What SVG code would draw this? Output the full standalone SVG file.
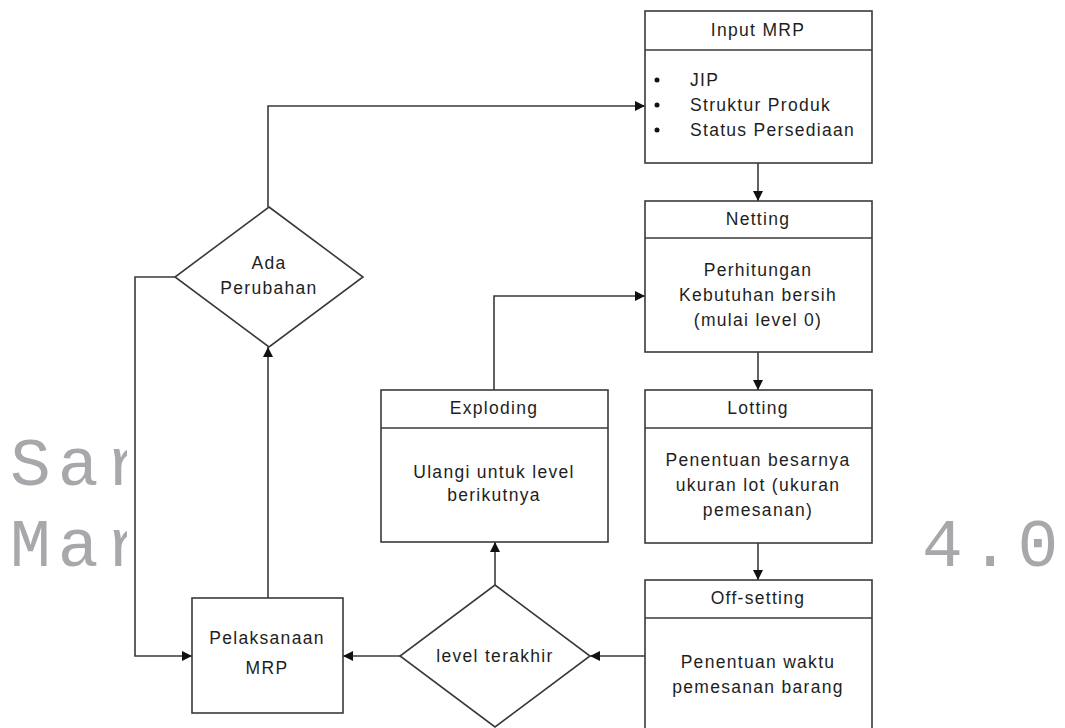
<svg xmlns="http://www.w3.org/2000/svg" width="1065" height="728" viewBox="0 0 1065 728">
  <style>
    .box { fill: #fff; stroke: #3a3a3a; stroke-width: 1.6; }
    .div { stroke: #3a3a3a; stroke-width: 1.6; }
    .lbl { font-family: "Liberation Sans", Arial, sans-serif; font-size: 17.5px; letter-spacing: 1.3px; fill: #1e1e1e; text-anchor: middle; }
    .item { font-family: "Liberation Sans", Arial, sans-serif; font-size: 17.5px; letter-spacing: 1.3px; fill: #1e1e1e; }
    .wm { font-family: "Liberation Mono", "Courier New", monospace; font-size: 68px; letter-spacing: 7px; fill: #a8a8ac; }
    .edge { fill: none; stroke: #3a3a3a; stroke-width: 1.6; }
  </style>
  <defs>
    <marker id="arrow" viewBox="0 0 10 10" refX="10" refY="5" markerWidth="10" markerHeight="10" markerUnits="userSpaceOnUse" orient="auto">
      <path d="M0,0 L10,5 L0,10 Z" fill="#111"/>
    </marker>
    <clipPath id="wmClip">
      <rect x="0" y="0" width="127" height="728"/>
    </clipPath>
  </defs>

  <rect width="1065" height="728" fill="#fff"/>

  <!-- background watermark -->
  <g id="watermark">
    <g clip-path="url(#wmClip)">
      <text class="wm" x="10" y="485">Sar</text>
      <text class="wm" x="10" y="566">Mar</text>
    </g>
    <text class="wm" x="922" y="566">4.0</text>
  </g>

  <!-- connectors -->
  <g id="connectors">
    <polyline class="edge" points="268,207 268,106 645,106" marker-end="url(#arrow)"/>
    <polyline class="edge" points="175,277 135,277 135,656 192,656" marker-end="url(#arrow)"/>
    <line class="edge" x1="268" y1="598" x2="268" y2="347" marker-end="url(#arrow)"/>
    <line class="edge" x1="400" y1="656" x2="343" y2="656" marker-end="url(#arrow)"/>
    <line class="edge" x1="645" y1="656" x2="590" y2="656" marker-end="url(#arrow)"/>
    <line class="edge" x1="495" y1="585" x2="495" y2="542" marker-end="url(#arrow)"/>
    <polyline class="edge" points="494,390 494,296 645,296" marker-end="url(#arrow)"/>
    <line class="edge" x1="758" y1="163" x2="758" y2="201" marker-end="url(#arrow)"/>
    <line class="edge" x1="758" y1="352" x2="758" y2="390" marker-end="url(#arrow)"/>
    <line class="edge" x1="758" y1="543" x2="758" y2="580" marker-end="url(#arrow)"/>
  </g>

  <!-- Input MRP -->
  <g id="input-mrp">
    <rect class="box" x="645" y="11" width="227" height="152"/>
    <line class="div" x1="645" y1="50" x2="872" y2="50"/>
    <text class="lbl" x="758" y="36">Input MRP</text>
    <circle cx="657" cy="80" r="2.5" fill="#111"/>
    <circle cx="657" cy="105" r="2.5" fill="#111"/>
    <circle cx="657" cy="130" r="2.5" fill="#111"/>
    <text class="item" x="690" y="86">JIP</text>
    <text class="item" x="690" y="111">Struktur Produk</text>
    <text class="item" x="690" y="136">Status Persediaan</text>
  </g>

  <!-- Netting -->
  <g id="netting">
    <rect class="box" x="645" y="201" width="227" height="151"/>
    <line class="div" x1="645" y1="238" x2="872" y2="238"/>
    <text class="lbl" x="758" y="225">Netting</text>
    <text class="lbl" x="758" y="276">Perhitungan</text>
    <text class="lbl" x="758" y="301">Kebutuhan bersih</text>
    <text class="lbl" x="758" y="326">(mulai level 0)</text>
  </g>

  <!-- Lotting -->
  <g id="lotting">
    <rect class="box" x="645" y="390" width="227" height="153"/>
    <line class="div" x1="645" y1="428" x2="872" y2="428"/>
    <text class="lbl" x="758" y="414">Lotting</text>
    <text class="lbl" x="758" y="466">Penentuan besarnya</text>
    <text class="lbl" x="758" y="491">ukuran lot (ukuran</text>
    <text class="lbl" x="758" y="516">pemesanan)</text>
  </g>

  <!-- Off-setting -->
  <g id="off-setting">
    <rect class="box" x="645" y="580" width="227" height="160"/>
    <line class="div" x1="645" y1="618" x2="872" y2="618"/>
    <text class="lbl" x="758" y="604">Off-setting</text>
    <text class="lbl" x="758" y="668">Penentuan waktu</text>
    <text class="lbl" x="758" y="693">pemesanan barang</text>
  </g>

  <!-- Exploding -->
  <g id="exploding">
    <rect class="box" x="381" y="390" width="227" height="152"/>
    <line class="div" x1="381" y1="428" x2="608" y2="428"/>
    <text class="lbl" x="494" y="414">Exploding</text>
    <text class="lbl" x="494" y="478">Ulangi untuk level</text>
    <text class="lbl" x="494" y="501">berikutnya</text>
  </g>

  <!-- level terakhir decision -->
  <g id="level-terakhir">
    <polygon class="box" points="495,585 590,656 495,727 400,656"/>
    <text class="lbl" x="495" y="662">level terakhir</text>
  </g>

  <!-- Pelaksanaan MRP -->
  <g id="pelaksanaan-mrp">
    <rect class="box" x="192" y="598" width="151" height="115"/>
    <text class="lbl" x="267" y="644">Pelaksanaan</text>
    <text class="lbl" x="267" y="674">MRP</text>
  </g>

  <!-- Ada Perubahan decision -->
  <g id="ada-perubahan">
    <polygon class="box" points="269,207 363,277 269,347 175,277"/>
    <text class="lbl" x="269" y="269">Ada</text>
    <text class="lbl" x="269" y="294">Perubahan</text>
  </g>
</svg>
